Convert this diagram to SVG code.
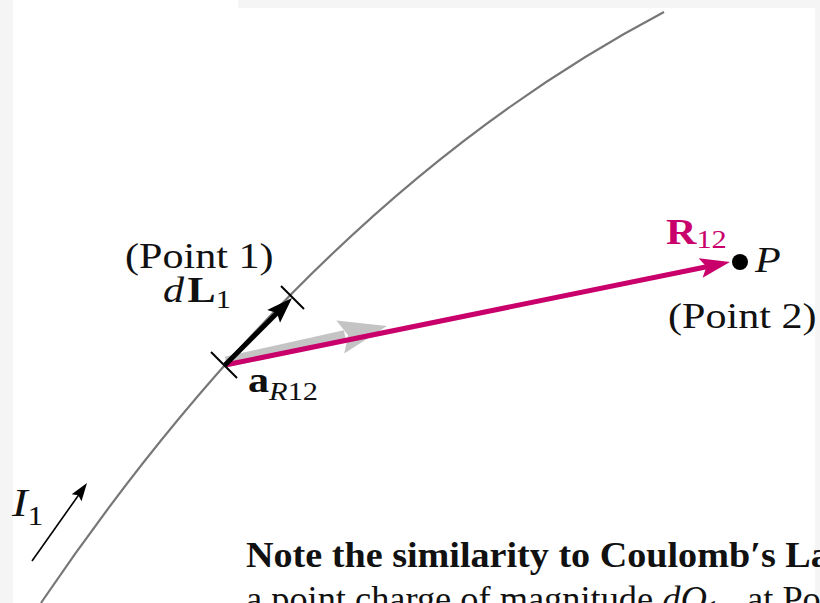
<svg xmlns="http://www.w3.org/2000/svg" width="820" height="603" viewBox="0 0 820 603">
<style>
.t{font-family:"Liberation Serif","Times New Roman",serif;fill:#111}
.m{fill:#c9006b}
.it{font-style:italic}
.b{font-weight:bold}
</style>
<rect width="820" height="603" fill="#ffffff"/>
<rect x="0" y="0" width="13" height="603" fill="#f5f5f5"/>
<rect x="238" y="0" width="582" height="8" fill="#f5f5f5"/>
<rect x="815" y="0" width="5" height="603" fill="#f5f5f5"/>
<g id="wire">
<path d="M41,603 L43,600 Q319,194 664,12" fill="none" stroke="#777777" stroke-width="2.2"/>
</g>
<g id="connectors">
<g id="aR12-arrow">
<line x1="226" y1="362" x2="345" y2="335.5" stroke="#c4c4c4" stroke-width="11"/>
<polygon points="387,326 336.4,320.6 348.1,335.2 344.2,353.6" fill="#c4c4c4"/>
</g>
<g id="R12-arrow">
<line x1="225" y1="365" x2="708" y2="266.5" stroke="#c9006b" stroke-width="5"/>
<polygon points="730,262 698.6,258.2 706.5,266.8 702.6,277.8" fill="#c9006b"/>
</g>
<g id="dL-arrow">
<line x1="225" y1="365" x2="279" y2="311" stroke="#000" stroke-width="5"/>
<polygon points="292,298 267.2,310 277.1,312.9 280,322.8" fill="#000"/>
</g>
<g id="ticks" stroke="#000" stroke-width="2">
<line x1="211" y1="352" x2="237" y2="378"/>
<line x1="281" y1="286" x2="304" y2="309"/>
</g>
<g id="I1-arrow">
<line x1="32" y1="561" x2="79" y2="494.5" stroke="#000" stroke-width="1.6"/>
<polygon points="87,483 71.7,494.2 78.3,495.3 81.5,501.2" fill="#000"/>
</g>
</g>
<g id="point1">
<text class="t" font-size="36" transform="translate(125,268) scale(1.17,1)">(Point 1)</text>
<text class="t" font-size="36" transform="translate(163,302) scale(1.17,1)"><tspan class="it">d</tspan><tspan class="b" dx="3">L</tspan><tspan font-size="26" dy="6">1</tspan></text>
<text class="t" font-size="36" transform="translate(248,392) scale(1.17,1)"><tspan class="b">a</tspan><tspan class="it" font-size="26" dy="8">R</tspan><tspan font-size="26">12</tspan></text>
</g>
<g id="point2">
<circle cx="740" cy="262" r="8" fill="#000"/>
<text class="t m" font-size="36" transform="translate(666,244) scale(1.17,1)"><tspan class="b">R</tspan><tspan font-size="26" dy="4">12</tspan></text>
<text class="t it" font-size="36" transform="translate(755,272) scale(1.17,1)">P</text>
<text class="t" font-size="36" transform="translate(668,328) scale(1.17,1)">(Point 2)</text>
</g>
<g id="current">
<text class="t" font-size="40" transform="translate(12,516) scale(1.17,1)"><tspan class="it">I</tspan><tspan font-size="27" dy="9">1</tspan></text>
</g>
<g id="caption">
<text class="t b" font-size="35" transform="translate(246,567) scale(1.09,1)">Note the similarity to Coulomb′s La</text>
<text class="t" font-size="36" transform="translate(246,611) scale(1.01,1)">a point charge of magnitude <tspan class="it">dQ</tspan><tspan font-size="26" dy="7">1</tspan><tspan dy="-7" dx="18"> at Poi</tspan></text>
</g>
</svg>
